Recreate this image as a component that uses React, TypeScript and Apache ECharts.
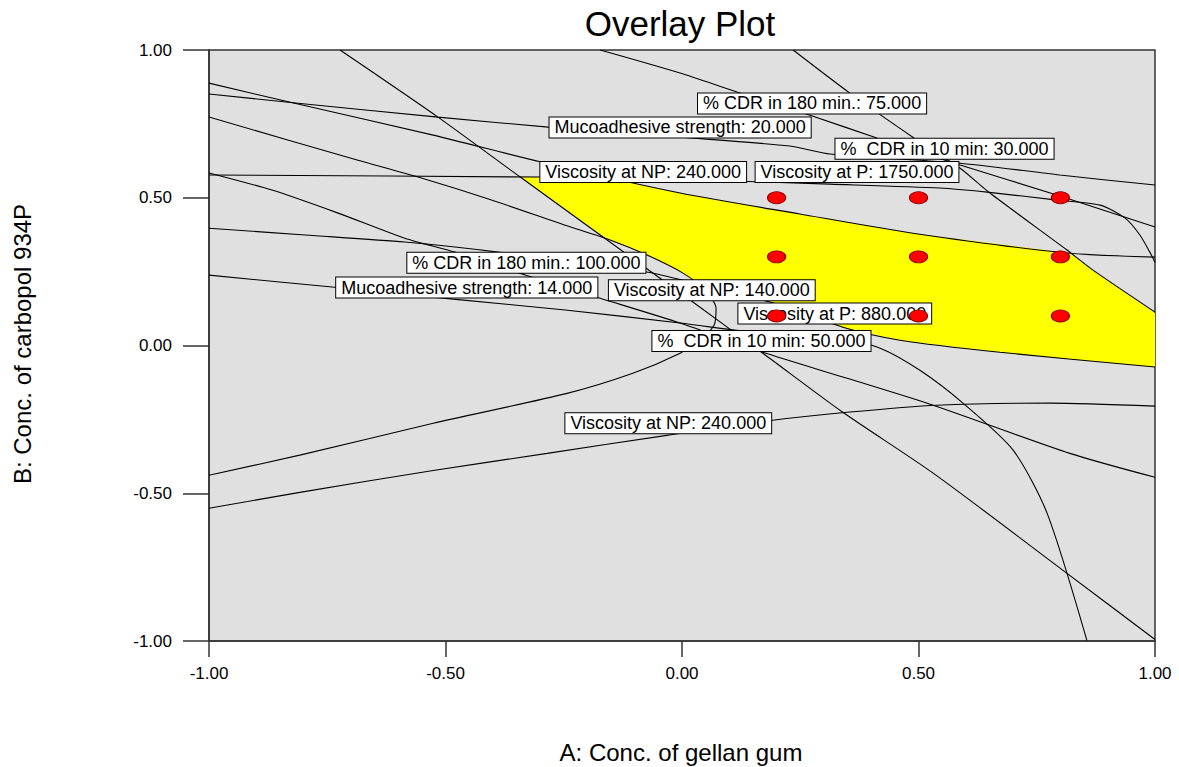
import React, { useEffect, useRef } from "react";
import * as echarts from "echarts";

// ---- contour curves (A: gellan gum, B: carbopol 934P) ----
const cdr10_50_x = [-0.723, -0.516, -0.342, -0.173, 0.023, 0.171, 0.34, 0.531, 0.814, 1.0];
const cdr10_50_y = [1.0, 0.773, 0.57, 0.374, 0.147, -0.026, -0.226, -0.432, -0.771, -0.995];

const cdr10_30_x = [0.235, 0.355, 0.488, 0.588, 0.651, 0.814, 0.869, 1.0];
const cdr10_30_y = [1.0, 0.854, 0.705, 0.6, 0.516, 0.323, 0.255, 0.113];

const cdr180_75_x = [-0.173, -0.004, 0.116, 0.277, 0.412, 0.588, 0.799, 1.0];
const cdr180_75_y = [1.0, 0.922, 0.858, 0.776, 0.702, 0.611, 0.506, 0.401];

const cdr180_100_x = [-1.0, -0.867, -0.727, -0.586, -0.48, -0.33, -0.173, -0.004, 0.171, 0.349, 0.531, 0.82, 1.0];
const cdr180_100_y = [0.584, 0.526, 0.448, 0.363, 0.316, 0.238, 0.16, 0.076, -0.023, -0.111, -0.202, -0.365, -0.446];

const muco20_x = [-1.0, -0.812, -0.516, -0.283, -0.004, 0.228, 0.313, 0.588, 0.799, 1.0];
const muco20_y = [0.851, 0.82, 0.773, 0.739, 0.705, 0.675, 0.648, 0.617, 0.577, 0.543];

const muco14_x = [-1.0, -0.734, -0.484, -0.247, -0.004, 0.165, 0.334, 0.419, 0.503, 0.594, 0.7, 0.772, 0.856];
const muco14_y = [0.238, 0.197, 0.157, 0.12, 0.076, 0.042, 0.025, -0.009, -0.084, -0.195, -0.354, -0.568, -0.998];

const vnp240Upper_x = [-1.0, -0.812, -0.526, -0.298, -0.004, 0.249, 0.488, 0.814, 1.0];
const vnp240Upper_y = [0.888, 0.817, 0.712, 0.621, 0.516, 0.445, 0.38, 0.313, 0.299];

const vnp240Lower_x = [-1.0, -0.808, -0.526, -0.285, -0.032, 0.192, 0.349, 0.539, 0.778, 1.0];
const vnp240Lower_y = [-0.551, -0.497, -0.423, -0.365, -0.304, -0.253, -0.226, -0.202, -0.195, -0.205];

const vnp140_x = [-1.0, -0.685, -0.558, -0.406, -0.247, -0.152, -0.074, 0.002, 0.049, 0.072, 0.068, 0.038, -0.004, -0.104, -0.243, -0.526, -0.808, -1.0];
const vnp140_y = [0.773, 0.627, 0.57, 0.494, 0.407, 0.357, 0.306, 0.245, 0.187, 0.126, 0.069, 0.018, -0.026, -0.094, -0.162, -0.263, -0.371, -0.439];

const vp1750_x = [-1.0, -0.298, 0.038, 0.313, 0.545, 0.645, 0.793, 0.884, 0.937, 0.968, 0.989, 1.0];
const vp1750_y = [0.577, 0.57, 0.56, 0.546, 0.533, 0.519, 0.492, 0.475, 0.431, 0.374, 0.316, 0.282];

const vp880_x = [-1.0, -0.797, -0.586, -0.389, -0.072, 0.002, 0.186, 0.34, 0.461, 0.672, 1.0];
const vp880_y = [0.397, 0.374, 0.35, 0.316, 0.248, 0.221, 0.147, 0.062, 0.018, -0.023, -0.073];

// ---- design space (yellow overlay region) ----
const regionX = [-0.342, -0.163, -0.004, 0.249, 0.488, 0.672, 0.818, 0.869, 1.0, 1.0, 0.672, 0.461, 0.34, 0.186, 0.038, 0.002, -0.074, -0.152, -0.18, -0.273];
const regionY = [0.57, 0.57, 0.516, 0.445, 0.38, 0.343, 0.313, 0.255, 0.109, -0.073, -0.023, 0.018, 0.062, 0.147, 0.201, 0.245, 0.306, 0.357, 0.384, 0.492];

// ---- design points ----
const designA = [0.2, 0.5, 0.8, 0.2, 0.5, 0.8, 0.2, 0.5, 0.8];
const designB = [0.5, 0.5, 0.5, 0.3, 0.3, 0.3, 0.1, 0.1, 0.1];

// ---- contour labels ----
const labelTexts = [
  "% CDR in 180 min.: 75.000",
  "Mucoadhesive strength: 20.000",
  "%  CDR in 10 min: 30.000",
  "Viscosity at NP: 240.000",
  "Viscosity at P: 1750.000",
  "% CDR in 180 min.: 100.000",
  "Mucoadhesive strength: 14.000",
  "Viscosity at NP: 140.000",
  "Viscosity at P: 880.000",
  "%  CDR in 10 min: 50.000",
  "Viscosity at NP: 240.000",
];
const labelX = [0.275, -0.004, 0.555, -0.082, 0.37, -0.329, -0.455, 0.063, 0.323, 0.168, -0.029];
const labelY = [0.819, 0.738, 0.666, 0.587, 0.587, 0.28, 0.196, 0.187, 0.108, 0.015, -0.263];

const xTicks = [-1, -0.5, 0, 0.5, 1];
const yTicks = [-1, -0.5, 0, 0.5, 1];

const FONT = "'Liberation Sans', Arial, sans-serif";

const contours: [number[], number[]][] = [
  [cdr10_50_x, cdr10_50_y],
  [cdr10_30_x, cdr10_30_y],
  [cdr180_75_x, cdr180_75_y],
  [cdr180_100_x, cdr180_100_y],
  [muco20_x, muco20_y],
  [muco14_x, muco14_y],
  [vnp240Upper_x, vnp240Upper_y],
  [vnp240Lower_x, vnp240Lower_y],
  [vnp140_x, vnp140_y],
  [vp1750_x, vp1750_y],
  [vp880_x, vp880_y],
];

export default function App() {
  const ref = useRef<HTMLDivElement>(null);

  useEffect(() => {
    const chart = echarts.init(ref.current as HTMLDivElement, null, { renderer: "svg" });

    const lineSeries = contours.map(([xs, ys]) => ({
      type: "line",
      data: xs.map((x, i) => [x, ys[i]]),
      showSymbol: false,
      symbol: "none",
      smooth: 0.25,
      silent: true,
      z: 3,
      lineStyle: { color: "#000", width: 1.1 },
    }));

    const option: any = {
      animation: false,
      backgroundColor: "#ffffff",
      grid: {
        left: 209,
        right: 24,
        top: 50,
        bottom: 126,
        show: true,
        backgroundColor: "#e0e0e0",
        borderColor: "#333",
        borderWidth: 1.5,
      },
      xAxis: {
        type: "value",
        min: xTicks[0],
        max: xTicks[xTicks.length - 1],
        interval: 0.5,
        axisLine: { show: true, onZero: false, lineStyle: { color: "#333", width: 1.5 } },
        axisTick: { show: true, inside: false, length: 16, lineStyle: { color: "#333", width: 1.5 } },
        splitLine: { show: false },
        axisLabel: {
          formatter: (v: number) => v.toFixed(2),
          color: "#000",
          fontSize: 17,
          fontFamily: FONT,
          margin: 24,
        },
      },
      yAxis: {
        type: "value",
        min: yTicks[0],
        max: yTicks[yTicks.length - 1],
        interval: 0.5,
        axisLine: { show: true, onZero: false, lineStyle: { color: "#333", width: 1.5 } },
        axisTick: { show: true, inside: false, length: 26, lineStyle: { color: "#333", width: 1.5 } },
        splitLine: { show: false },
        axisLabel: {
          formatter: (v: number) => v.toFixed(2),
          color: "#000",
          fontSize: 17,
          fontFamily: FONT,
          margin: 37,
        },
      },
      graphic: [
        {
          type: "text",
          x: 680,
          y: 23,
          style: {
            text: "Overlay Plot",
            fontSize: 35,
            fontFamily: FONT,
            fill: "#000",
            textAlign: "center",
            textVerticalAlign: "middle",
          },
        },
        {
          type: "text",
          x: 681,
          y: 752,
          style: {
            text: "A: Conc. of gellan gum",
            fontSize: 24,
            fontFamily: FONT,
            fill: "#000",
            textAlign: "center",
            textVerticalAlign: "middle",
          },
        },
        {
          type: "text",
          x: 22,
          y: 344,
          rotation: Math.PI / 2,
          style: {
            text: "B: Conc. of carbopol 934P",
            fontSize: 24,
            fontFamily: FONT,
            fill: "#000",
            textAlign: "center",
            textVerticalAlign: "middle",
          },
        },
      ],
      series: [
        {
          type: "custom",
          coordinateSystem: "cartesian2d",
          silent: true,
          z: 1,
          clip: true,
          data: [[0, 0]],
          renderItem: (_params: any, api: any) => {
            const pts = regionX.map((x, i) => api.coord([x, regionY[i]]));
            return {
              type: "polygon",
              shape: { points: pts },
              style: { fill: "#ffff00", stroke: "none" },
            };
          },
        },
        ...lineSeries,
        {
          type: "custom",
          coordinateSystem: "cartesian2d",
          silent: true,
          z: 5,
          data: labelTexts.map((_t, i) => [labelX[i], labelY[i], i]),
          renderItem: (params: any, api: any) => {
            const p = api.coord([api.value(0), api.value(1)]);
            const t = labelTexts[params.dataIndex];
            return {
              type: "text",
              x: p[0],
              y: p[1],
              style: {
                text: t,
                fill: "#000",
                fontSize: 18,
                fontFamily: FONT,
                align: "center",
                verticalAlign: "middle",
                backgroundColor: "#ffffff",
                borderColor: "#000",
                borderWidth: 1,
                padding: [1, 5, 1, 5],
                lineHeight: 18,
                opacity: 1,
              },
            };
          },
        },
        {
          type: "scatter",
          z: 6,
          silent: true,
          symbol: "circle",
          symbolSize: [18, 12],
          itemStyle: { color: "#ff0000", borderColor: "#8a0000", borderWidth: 1, opacity: 1 },
          data: designA.map((a, i) => [a, designB[i]]),
        },
      ],
    };

    chart.setOption(option);
    return () => chart.dispose();
  }, []);

  return (
    <div
      ref={ref}
      style={{ position: "fixed", left: 0, top: 0, width: 1179, height: 767 }}
    />
  );
}
